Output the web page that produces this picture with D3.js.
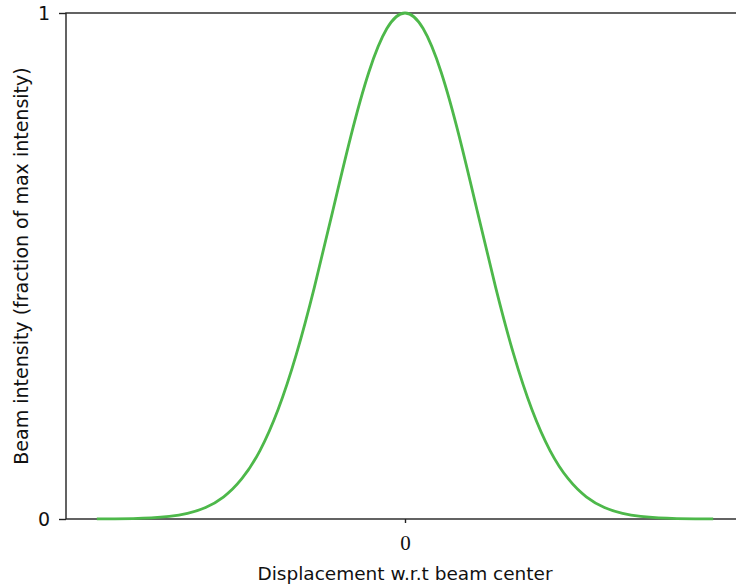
<!DOCTYPE html>
<html><head><meta charset="utf-8">
<script src="https://cdn.jsdelivr.net/npm/d3@7"></script>
<style>body{margin:0;background:#fff}svg{display:block}</style>
</head><body>
<script>
// Displacement from beam centre (in beam-width units) and relative intensity
const displacement = [-4.25,-4,-3.75,-3.5,-3.25,-3,-2.75,-2.5,-2.25,-2,-1.75,-1.5,-1.25,-1,-0.75,-0.5,-0.25,0,
  0.25,0.5,0.75,1,1.25,1.5,1.75,2,2.25,2.5,2.75,3,3.25,3.5,3.75,4,4.25];
const intensity = [0.0001,0.0003,0.0009,0.0022,0.0051,0.0111,0.0228,0.0439,0.0796,0.1353,0.2163,0.3247,0.4578,0.6065,0.7548,0.8825,0.9692,1,
  0.9692,0.8825,0.7548,0.6065,0.4578,0.3247,0.2163,0.1353,0.0796,0.0439,0.0228,0.0111,0.0051,0.0022,0.0009,0.0003,0.0001];
const xTicks = [0];
const xTickLabels = ["0"];
const yTicks = [0, 1];
const yTickLabels = ["0", "1"];
const xLabel = "Displacement w.r.t beam center";
const yLabel = "Beam intensity (fraction of max intensity)";

const W = 736, H = 588;
const L = 66, R = 744, T = 13, B = 519;
const svg = d3.select("body").append("svg").attr("width", W).attr("height", H);

const span = d3.max(displacement) - d3.min(displacement);
const x = d3.scaleLinear()
  .domain([d3.min(displacement) - span * 0.05, d3.max(displacement) + span * 0.05])
  .range([L, R]);
const y = d3.scaleLinear().domain([0, 1]).range([B, T]);

// frame
svg.append("rect").attr("x", L).attr("y", T).attr("width", R - L).attr("height", B - T)
  .attr("fill", "none").attr("stroke", "#222").attr("stroke-width", 1.4);

// curve
const line = d3.line().x((d, i) => x(displacement[i])).y(d => y(d)).curve(d3.curveNatural);
svg.append("path").datum(intensity).attr("d", line)
  .attr("fill", "none").attr("stroke", "#4db84a").attr("stroke-width", 2.8);

// y axis
const yAxis = svg.append("g").attr("transform", `translate(${L},0)`)
  .call(d3.axisLeft(y).tickValues(yTicks).tickSize(7).tickPadding(9)
    .tickFormat((d, i) => yTickLabels[i]));
yAxis.select(".domain").remove();
yAxis.selectAll("line").attr("stroke", "#222").attr("stroke-width", 1.4);
yAxis.selectAll("text").attr("font-family", "DejaVu Sans, sans-serif").attr("font-size", 19).attr("fill", "#111");

// x axis
const xAxis = svg.append("g").attr("transform", `translate(0,${B})`)
  .call(d3.axisBottom(x).tickValues(xTicks).tickSize(4).tickPadding(12)
    .tickFormat((d, i) => xTickLabels[i]));
xAxis.select(".domain").remove();
xAxis.selectAll("line").attr("stroke", "#222").attr("stroke-width", 1.4);
xAxis.selectAll("text").attr("font-family", "Liberation Serif, serif").attr("font-size", 21).attr("fill", "#111");

// labels
svg.append("text").attr("x", x(0)).attr("y", 580).attr("text-anchor", "middle")
  .attr("font-family", "DejaVu Sans, sans-serif").attr("font-size", 18.5).attr("fill", "#111")
  .text(xLabel);
svg.append("text").attr("transform", `translate(28,${(T + B) / 2}) rotate(-90)`).attr("text-anchor", "middle")
  .attr("font-family", "DejaVu Sans, sans-serif").attr("font-size", 19).attr("fill", "#111")
  .text(yLabel);
</script>
</body></html>
